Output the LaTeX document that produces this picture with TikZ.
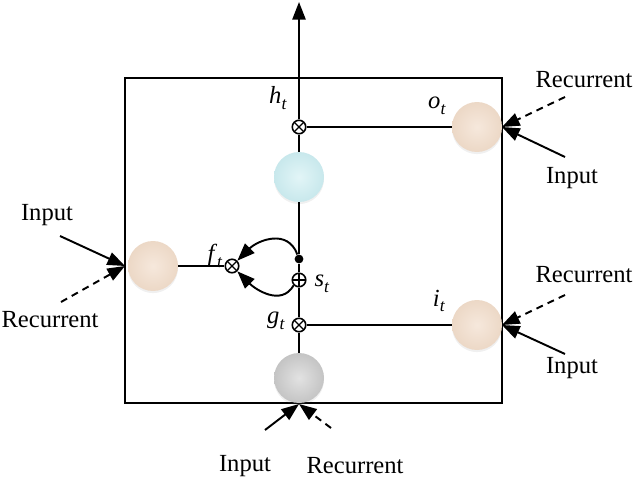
\documentclass[tikz,border=0pt]{standalone}
\usepackage{fontspec}
\setmainfont{Liberation Serif}
\usetikzlibrary{arrows.meta,positioning,calc,shadows}

\definecolor{peachin}{RGB}{246,232,220}
\definecolor{peachout}{RGB}{236,216,198}
\definecolor{cyanin}{RGB}{226,245,247}
\definecolor{cyanout}{RGB}{200,232,236}
\definecolor{greyin}{RGB}{226,226,226}
\definecolor{greyout}{RGB}{196,196,196}

\newcommand{\gvar}[1]{\textit{#1}\raisebox{-0.5ex}{\fontsize{10}{10}\selectfont\textit{t}}}

\tikzset{
  wire/.style={line width=1.1pt},
  feed/.style={line width=1.1pt,-{Triangle[length=10pt,width=7.5pt]}},
  feeddash/.style={feed,dash pattern=on 4pt off 3pt},
  unit/.style={circle,minimum size=1cm,inner sep=0pt,
    drop shadow={shadow xshift=0pt,shadow yshift=-1.2pt,opacity=0.12}},
  peach/.style={unit,inner color=peachin,outer color=peachout},
  cyanball/.style={unit,inner color=cyanin,outer color=cyanout},
  greyball/.style={unit,inner color=greyin,outer color=greyout},
  mult/.style={circle,draw,line width=0.9pt,fill=white,minimum size=0.27cm,inner sep=0pt,
    path picture={\draw[line width=0.7pt] (path picture bounding box.south west) -- (path picture bounding box.north east)
      (path picture bounding box.north west) -- (path picture bounding box.south east);}},
  plus/.style={circle,draw,line width=0.9pt,fill=white,minimum size=0.27cm,inner sep=0pt,
    path picture={\draw[line width=0.7pt] (path picture bounding box.south) -- (path picture bounding box.north)
      (path picture bounding box.west) -- (path picture bounding box.east);}},
  txt/.style={font=\fontsize{14}{15}\selectfont,inner sep=0pt},
  lab/.style={font=\fontsize{14}{15}\selectfont,inner sep=0pt}
}

\begin{document}
\begin{tikzpicture}[x=0.02cm,y=-0.02cm]
\useasboundingbox (0,0) rectangle (634,493);
% cell frame
\draw[wire] (125,78) rectangle (502,403);
% units and gates
\node[cyanball] (cell) at (299,177) {};
\node[greyball] (inp) at (299,378) {};
\node[peach] (fgt) at (153,266) {};
\node[peach] (ogt) at (477,127) {};
\node[peach] (igt) at (477,325) {};
\node[mult] (hx) at (299,127) {};
\node[mult] (gx) at (299,325) {};
\node[mult] (fx) at (232,266) {};
\node[plus] (sp) at (299,280) {};
\node[circle,fill,inner sep=0pt,minimum size=5pt] (dot) at (299,259) {};
\coordinate (out) at (299,2);
% labels
\node[lab] (hl) at (278,98) {\gvar{h}};
\node[lab] (ol) at (437,106) {\gvar{o}};
\node[lab] (fl) at (215,256) {\gvar{f}};
\node[lab] (sl) at (322,284) {\gvar{s}};
\node[lab] (gl) at (276,321) {\gvar{g}};
\node[lab] (il) at (439,301) {\gvar{i}};
% wires
\draw[feed] (hx) -- (out);
\draw[wire] (cell) -- (hx);
\draw[wire] (hx) -- (ogt);
\draw[wire] (dot) -- (cell);
\draw[wire] (sp) -- (dot);
\draw[wire] (gx) -- (sp);
\draw[wire] (inp) -- (gx);
\draw[wire] (gx) -- (igt);
\draw[wire] (fgt) -- (fx);
\draw[feed] (dot) to[out=110,in=45,looseness=1.2] (fx.north east);
\draw[feed] (sp.south west) to[out=-120,in=-45,looseness=1.1] (fx.south east);
% outside inputs
\coordinate (lt) at (125,266);
\coordinate (ot) at (502,127);
\coordinate (it) at (502,325);
\coordinate (bt) at (299,404);
\node[txt] (in1) at (47,215) {Input};
\node[txt] (rc1) at (50,320) {Recurrent};
\node[txt] (in2) at (572,178) {Input};
\node[txt] (rc2) at (584,80) {Recurrent};
\node[txt] (in3) at (572,368) {Input};
\node[txt] (rc3) at (584,275) {Recurrent};
\node[txt] (in4) at (245,466) {Input};
\node[txt] (rc4) at (355,466) {Recurrent};
\draw[feed] (60,236) -- (lt);
\draw[feeddash] (61,302) -- (lt);
\draw[feed] (565,157) -- (ot);
\draw[feeddash] (565,97) -- (ot);
\draw[feed] (565,354) -- (it);
\draw[feeddash] (565,295) -- (it);
\draw[feed] (265,430) -- (bt);
\draw[feeddash] (331,428) -- (bt);
\end{tikzpicture}
\end{document}
